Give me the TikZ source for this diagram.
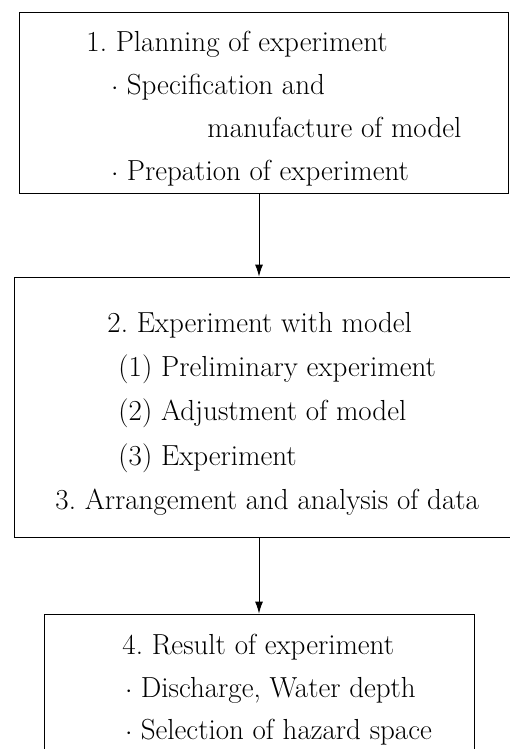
\documentclass[tikz,border=0pt]{standalone}
\usetikzlibrary{positioning,arrows.meta}
\tikzset{stagebox/.style={rectangle,draw,line width=0.9pt,inner sep=0pt},
  txt/.style={anchor=base west,inner sep=0pt,font=\fontsize{29}{35}\selectfont}}
\newcommand{\stage}[5]{\node[stagebox,minimum width=#2,minimum height=#3](#1) at (#4,#5) {}}
\newcommand{\entry}[4]{\node[txt](#1) at (#2,#3) {#4}}
\newcommand{\dotted}{$\cdot$\hspace{8.5pt}}

\begin{document}
\begin{tikzpicture}[>={Latex[length=12pt,width=8pt]},x=1pt,y=-1pt,line width=0.9pt]
\useasboundingbox (0,0) rectangle (510,749);

% boxes
\stage{plan}{489pt}{181pt}{263.5}{102.5};
\stage{exp}{501pt}{260pt}{264.5}{407};
\stage{res}{430pt}{166pt}{259}{697};

% planning
\entry{p1}{86}{52}{1.\ Planning of experiment};
\entry{p2}{111}{95}{\dotted Specification and};
\entry{p3}{207}{138}{manufacture of model};
\entry{p4}{111}{180}{\dotted Prepation of experiment};

% experiment
\entry{e1}{107}{332}{2.\ Experiment with model};
\entry{e2}{118}{376}{(1) Preliminary experiment};
\entry{e3}{118}{420}{(2) Adjustment of model};
\entry{e4}{118}{465}{(3) Experiment};
\entry{e5}{55}{509}{3.\ Arrangement and analysis of data};

% result
\entry{r1}{122}{654}{4.\ Result of experiment};
\entry{r2}{125}{697}{\dotted Discharge, Water depth};
\entry{r3}{125}{739}{\dotted Selection of hazard space};

\draw[->] (plan.south -| res) -- (exp.north -| res);
\draw[->] (exp.south -| res) -- (res.north);

\end{tikzpicture}
\end{document}
